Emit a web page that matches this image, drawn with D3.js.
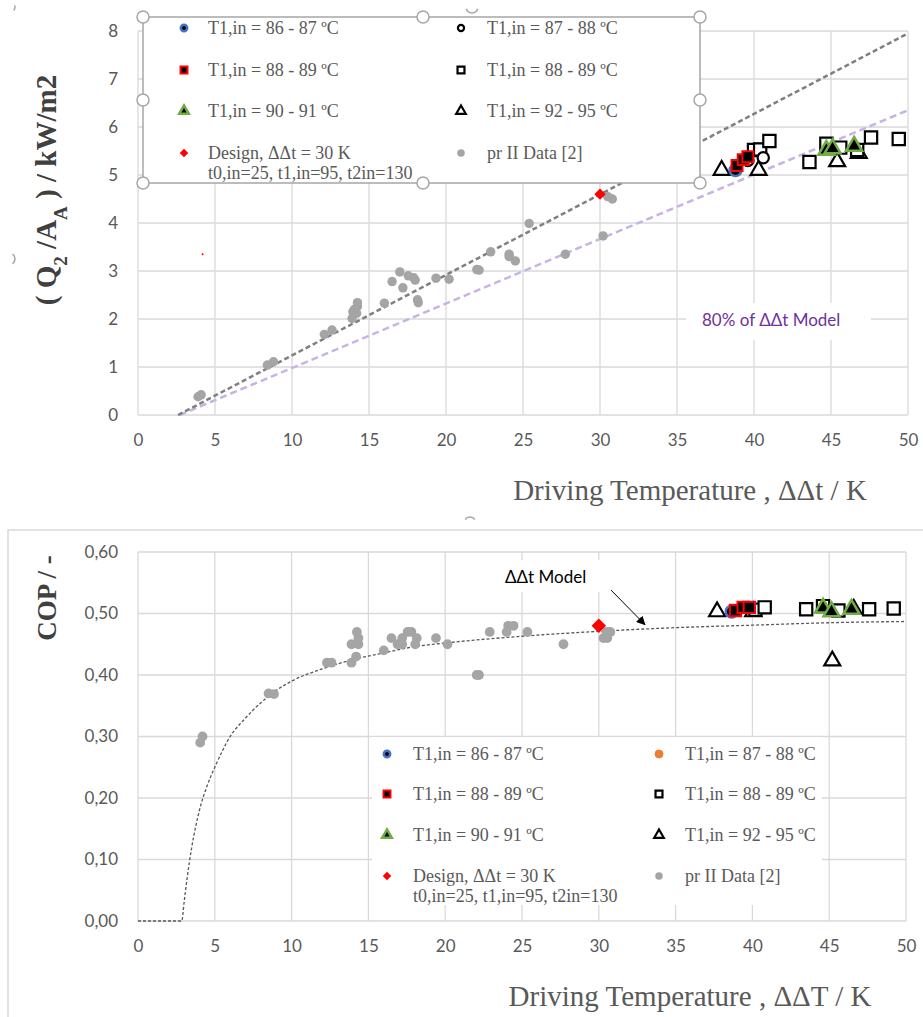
<!DOCTYPE html>
<html>
<head>
<meta charset="utf-8">
<script src="https://cdn.jsdelivr.net/npm/d3@7"></script>
<style>
  body { margin: 0; background: #fff; }
  svg { display: block; }
</style>
</head>
<body>
<div class="chart"></div>
<script>
// ---- data: top chart (Q2/AA, kW/m2 vs driving temperature) ----
const xTicks = [0, 5, 10, 15, 20, 25, 30, 35, 40, 45, 50];
const qTicks = [0, 1, 2, 3, 4, 5, 6, 7, 8];
const copTicks = [0, 0.1, 0.2, 0.3, 0.4, 0.5, 0.6];

const legendLabels = ["T1,in = 86 - 87 ºC", "T1,in = 87 - 88 ºC", "T1,in = 88 - 89 ºC", "T1,in = 88 - 89 ºC",
                      "T1,in = 90 - 91 ºC", "T1,in = 92 - 95 ºC", "Design, ΔΔt = 30 K", "pr II Data [2]"];
const designSubLabel = "t0,in=25, t1,in=95, t2in=130";

const qPrII = [[3.9,0.38],[4.1,0.42],[8.4,1.04],[8.8,1.11],[12.1,1.68],[12.6,1.77],[13.9,2.01],[13.95,2.15],
  [14.05,2.2],[14.25,2.26],[14.25,2.34],[14.2,2.12],[16.0,2.33],[16.5,2.78],[17.0,2.98],[17.2,2.65],[17.55,2.9],
  [17.9,2.86],[18.0,2.81],[18.15,2.4],[18.2,2.34],[19.35,2.85],[20.2,2.83],[22.0,3.03],[22.15,3.02],[22.9,3.4],
  [24.1,3.35],[24.1,3.3],[24.5,3.21],[25.4,3.99],[27.75,3.35],[30.2,3.73],[30.5,4.55],[30.8,4.5]];
const qT86 = [[38.8,5.1]];
const qT87 = [[39.6,5.3],[40.6,5.36]];
const qT88f = [[38.9,5.2],[39.3,5.32],[39.6,5.38]];
const qT88o = [[40.0,5.52],[40.4,5.53],[41.0,5.71],[43.6,5.27],[44.7,5.65],[45.6,5.57],[46.7,5.52],[47.6,5.78],[49.4,5.75]];
const qT90 = [[44.7,5.52],[45.1,5.55],[46.5,5.6]];
const qT92 = [[37.9,5.1],[40.3,5.1],[45.4,5.28],[46.8,5.45]];
const qDesign = [[30,4.6]];
const qDesignDot = [[4.2,3.35]];
const qModel = [[2.6,0],[50,7.95]];
const qModel80 = [[2.7,0],[50,6.35]];

// ---- data: bottom chart (COP vs driving temperature) ----
const copPrII = [[4.05,0.29],[4.2,0.30],[8.5,0.37],[8.85,0.369],[12.3,0.42],[12.6,0.42],[13.9,0.42],[14.2,0.43],
  [13.9,0.45],[14.35,0.45],[14.35,0.46],[14.25,0.47],[16.0,0.44],[16.5,0.46],[16.9,0.45],[17.2,0.45],[17.2,0.46],
  [17.55,0.47],[17.8,0.47],[18.05,0.45],[18.15,0.46],[19.4,0.46],[20.15,0.45],[22.05,0.40],[22.2,0.40],[22.9,0.47],
  [24.0,0.47],[24.1,0.48],[24.45,0.48],[25.35,0.47],[27.7,0.45],[30.3,0.46],[30.55,0.46],[30.75,0.47],[30.5,0.47]];
const copT86 = [[38.65,0.503]];
const copT87 = [[39.3,0.507]];
const copT88f = [[38.9,0.505],[39.4,0.51],[39.8,0.51]];
const copT88o = [[40.2,0.506],[40.8,0.51],[43.5,0.507],[44.6,0.512],[45.6,0.505],[47.6,0.507],[49.2,0.508]];
const copT90 = [[44.6,0.509],[45.15,0.503],[46.45,0.507]];
const copT92 = [[37.7,0.503],[40.05,0.503],[45.2,0.423],[46.6,0.507]];
const copDesign = [[30,0.48]];
const copModel = [[0,0],[2.85,0],[3.0,0.03],[3.2,0.07],[3.5,0.12],[4,0.18],[4.5,0.22],[5,0.25],[6,0.30],[7,0.33],
  [8,0.355],[9,0.375],[10,0.39],[12,0.41],[14,0.425],[16,0.436],[18,0.446],[20,0.452],[25,0.463],[30,0.471],
  [35,0.477],[40,0.481],[45,0.485],[50,0.487]];

const W = 923, H = 1017;
const serif = "'Liberation Serif', 'Times New Roman', serif";
const sans = "Lato, 'Open Sans', sans-serif";
const gridColor = "#d9d9d9";
const textGray = "#595959";

const svg = d3.select('.chart').append('svg')
    .attr('width', W)
    .attr('height', H)
    .style('background', '#fff');

// marker styles per series
const styles = {
    t86:  {type: d3.symbolCircle, fill: '#000', stroke: '#4472C4', sw: 2.5},
    t87:  {type: d3.symbolCircle, fill: '#fff', stroke: '#000', sw: 2.2},
    t87b: {type: d3.symbolCircle, fill: '#ED7D31', stroke: '#ED7D31', sw: 1},
    t88f: {type: d3.symbolSquare, fill: '#000', stroke: '#FF0000', sw: 2},
    t88o: {type: d3.symbolSquare, fill: '#fff', stroke: '#000', sw: 2.2},
    t90:  {type: d3.symbolTriangle, fill: '#000', stroke: '#70AD47', sw: 2.5},
    t92:  {type: d3.symbolTriangle, fill: '#fff', stroke: '#000', sw: 2.2},
    design: {type: d3.symbolSquare, fill: '#FF0000', stroke: '#FF0000', sw: 0, rot: 45},
    pr:   {type: d3.symbolCircle, fill: '#A5A5A5', stroke: 'none', sw: 0}
};

function drawPoints(g, data, xs, ys, st, size) {
    g.selectAll(null)
        .data(data)
        .enter()
        .append('path')
        .attr('d', d3.symbol().type(st.type).size(size))
        .attr('transform', d => `translate(${xs(d[0])},${ys(d[1])})` + (st.rot ? ` rotate(${st.rot})` : ''))
        .attr('fill', st.fill)
        .attr('stroke', st.stroke)
        .attr('stroke-width', st.sw);
}

function grid(g, xs, ys, yTickVals) {
    g.selectAll(null).data(xTicks).enter().append('line')
        .attr('x1', d => xs(d)).attr('x2', d => xs(d))
        .attr('y1', ys.range()[0]).attr('y2', ys.range()[1])
        .attr('stroke', gridColor).attr('stroke-width', 1.3);
    g.selectAll(null).data(yTickVals).enter().append('line')
        .attr('x1', xs.range()[0]).attr('x2', xs.range()[1])
        .attr('y1', d => ys(d)).attr('y2', d => ys(d))
        .attr('stroke', gridColor).attr('stroke-width', 1.3);
}

function axes(g, xs, ys, yTickVals, yFmt) {
    const xAxis = d3.axisBottom(xs).tickValues(xTicks).tickSize(0).tickPadding(19);
    const yAxis = d3.axisLeft(ys).tickValues(yTickVals).tickSize(0).tickPadding(20).tickFormat(yFmt);
    const gx = g.append('g').attr('transform', `translate(0,${ys.range()[0]})`).call(xAxis);
    const gy = g.append('g').attr('transform', `translate(${xs.range()[0]},0)`).call(yAxis);
    [gx, gy].forEach(a => {
        a.select('.domain').remove();
        a.selectAll('text').attr('fill', textGray).style('font-family', sans).style('font-size', '17px');
    });
}

function legendMarker(g, key, x, y) {
    const st = styles[key];
    const sizes = {t86: 32, t87: 30, t87b: 50, t88f: 48, t88o: 48, t90: 40, t92: 40, design: 36, pr: 45};
    drawPoints(g, [[0,0]], d => x, d => y, st, sizes[key]);
}

function drawLegend(g, x0, x1, mx0, mx1, rows, keys) {
    keys.forEach((k, i) => {
        const col = i % 2, row = Math.floor(i / 2);
        legendMarker(g, k, col === 0 ? mx0 : mx1, rows[row]);
        g.append('text')
            .attr('x', col === 0 ? x0 : x1).attr('y', rows[row] + 6)
            .attr('fill', textGray)
            .style('font-family', serif).style('font-size', '18px')
            .text(legendLabels[i]);
    });
    g.append('text')
        .attr('x', x0).attr('y', rows[3] + 26)
        .attr('fill', textGray)
        .style('font-family', serif).style('font-size', '18px')
        .text(designSubLabel);
}

function handle(g, x, y) {
    g.append('circle').attr('cx', x).attr('cy', y).attr('r', 6)
        .attr('fill', '#fff').attr('stroke', '#a6a6a6').attr('stroke-width', 1.5);
}

// partial handle of the outer chart area (only an arc shows)
function arcHandle(g, x, y, a0, a1) {
    g.append('path')
        .attr('transform', `translate(${x},${y})`)
        .attr('d', d3.arc()({innerRadius: 6, outerRadius: 6, startAngle: a0, endAngle: a1}))
        .attr('fill', 'none').attr('stroke', '#a6a6a6').attr('stroke-width', 1.5);
}

// ================= TOP CHART =================
const topG = svg.append('g');
const xT = d3.scaleLinear().domain([0, 50]).range([138, 908]);
const yT = d3.scaleLinear().domain([0, 8]).range([415, 31]);

arcHandle(topG, 9, 259, Math.PI * 0.2, Math.PI * 0.8);
arcHandle(topG, 470, 523, -Math.PI * 0.3, Math.PI * 0.3);
arcHandle(topG, 472, 7, Math.PI * 0.6, Math.PI * 1.4);
arcHandle(topG, 9, 7, Math.PI * 0.4, Math.PI * 0.7);

grid(topG, xT, yT, qTicks);
axes(topG, xT, yT, qTicks, d3.format('d'));

const line = d3.line().x(d => xT(d[0])).y(d => yT(d[1]));
topG.append('path').datum(qModel80).attr('d', line)
    .attr('fill', 'none').attr('stroke', '#C8B4E3').attr('stroke-width', 2.5).attr('stroke-dasharray', '7,4');
topG.append('path').datum(qModel).attr('d', line)
    .attr('fill', 'none').attr('stroke', '#7F7F7F').attr('stroke-width', 2.5).attr('stroke-dasharray', '5,3');

// 80% label
topG.append('rect').attr('x', 686).attr('y', 303).attr('width', 185).attr('height', 37).attr('fill', '#fff');
topG.append('text').attr('x', 702).attr('y', 326)
    .attr('fill', '#7030A0').style('font-family', sans).style('font-size', '17px')
    .text('80% of ΔΔt Model');

drawPoints(topG, qPrII, xT, yT, styles.pr, 70);
drawPoints(topG, qDesignDot, xT, yT, styles.design, 3);
drawPoints(topG, qDesign, xT, yT, styles.design, 64);
drawPoints(topG, qT92, xT, yT, styles.t92, 110);
drawPoints(topG, qT88o, xT, yT, styles.t88o, 150);
drawPoints(topG, qT86, xT, yT, styles.t86, 110);
drawPoints(topG, qT87, xT, yT, styles.t87, 100);
drawPoints(topG, qT88f, xT, yT, styles.t88f, 120);
drawPoints(topG, qT90, xT, yT, styles.t90, 110);

// top legend box with selection handles
topG.append('rect').attr('x', 143).attr('y', 17).attr('width', 557).attr('height', 166)
    .attr('fill', '#fff').attr('stroke', '#a6a6a6').attr('stroke-width', 1.5);
drawLegend(topG, 208, 487, 184, 461, [28, 70, 111, 153],
    ['t86', 't87', 't88f', 't88o', 't90', 't92', 'design', 'pr']);
[[143,17],[423,17],[700,17],[143,100],[700,100],[143,183],[423,183],[700,183]].forEach(p => handle(topG, p[0], p[1]));

// titles
topG.append('text')
    .attr('transform', 'translate(56,190) rotate(-90)')
    .attr('text-anchor', 'middle')
    .attr('fill', '#404040')
    .style('font-family', serif).style('font-size', '29px').style('font-weight', 'bold')
    .call(t => {
        t.append('tspan').text('( Q');
        t.append('tspan').attr('baseline-shift', 'sub').style('font-size', '19px').text('2');
        t.append('tspan').text(' /A');
        t.append('tspan').attr('baseline-shift', 'sub').style('font-size', '19px').text('A');
        t.append('tspan').text(' ) / kW/m2');
    });

topG.append('text')
    .attr('x', 690).attr('y', 500)
    .attr('text-anchor', 'middle')
    .attr('fill', textGray)
    .style('font-family', serif).style('font-size', '29px')
    .text('Driving Temperature , ΔΔt / K');

// ================= BOTTOM CHART =================
const botG = svg.append('g');
botG.append('rect').attr('x', 8).attr('y', 530).attr('width', W).attr('height', H)
    .attr('fill', '#fff').attr('stroke', gridColor).attr('stroke-width', 1.5);

const xB = d3.scaleLinear().domain([0, 50]).range([138, 906]);
const yB = d3.scaleLinear().domain([0, 0.6]).range([921, 552]);

grid(botG, xB, yB, copTicks);
axes(botG, xB, yB, copTicks, d => d3.format('.2f')(d).replace('.', ','));

const lineB = d3.line().x(d => xB(d[0])).y(d => yB(d[1])).curve(d3.curveMonotoneX);
botG.append('path').datum(copModel).attr('d', lineB)
    .attr('fill', 'none').attr('stroke', '#595959').attr('stroke-width', 1.3).attr('stroke-dasharray', '3,2');

drawPoints(botG, copPrII, xB, yB, styles.pr, 75);
drawPoints(botG, copDesign, xB, yB, styles.design, 105);
drawPoints(botG, copT87, xB, yB, styles.t87b, 60);
drawPoints(botG, copT92, xB, yB, styles.t92, 110);
drawPoints(botG, copT88o, xB, yB, styles.t88o, 150);
drawPoints(botG, copT86, xB, yB, styles.t86, 110);
drawPoints(botG, copT88f, xB, yB, styles.t88f, 130);
drawPoints(botG, copT90, xB, yB, styles.t90, 110);

// annotation
botG.append('rect').attr('x', 495).attr('y', 560).attr('width', 105).attr('height', 32).attr('fill', '#fff');
botG.append('text').attr('x', 505).attr('y', 583)
    .attr('fill', '#000').style('font-family', sans).style('font-size', '17px')
    .text('ΔΔt Model');
svg.append('defs').append('marker')
    .attr('id', 'arrow').attr('viewBox', '0 0 10 10').attr('refX', 9).attr('refY', 5)
    .attr('markerWidth', 9).attr('markerHeight', 9).attr('orient', 'auto')
    .append('path').attr('d', 'M0,0 L10,5 L0,10 z').attr('fill', '#000');
botG.append('line')
    .attr('x1', xB(30.8)).attr('y1', yB(0.538))
    .attr('x2', xB(33.0)).attr('y2', yB(0.482))
    .attr('stroke', '#000').attr('stroke-width', 1).attr('marker-end', 'url(#arrow)');

// bottom legend (white background, no border)
botG.append('rect').attr('x', 372).attr('y', 737).attr('width', 450).attr('height', 168).attr('fill', '#fff');
drawLegend(botG, 413, 685, 387, 659, [754, 794, 835, 876],
    ['t86', 't87b', 't88f', 't88o', 't90', 't92', 'design', 'pr']);

botG.append('text')
    .attr('transform', 'translate(56,598) rotate(-90)')
    .attr('text-anchor', 'middle')
    .attr('fill', '#404040')
    .style('font-family', serif).style('font-size', '27px').style('font-weight', 'bold')
    .text('COP / -');

botG.append('text')
    .attr('x', 690).attr('y', 1006)
    .attr('text-anchor', 'middle')
    .attr('fill', textGray)
    .style('font-family', serif).style('font-size', '29px')
    .text('Driving Temperature , ΔΔT / K');
</script>
</body>
</html>
